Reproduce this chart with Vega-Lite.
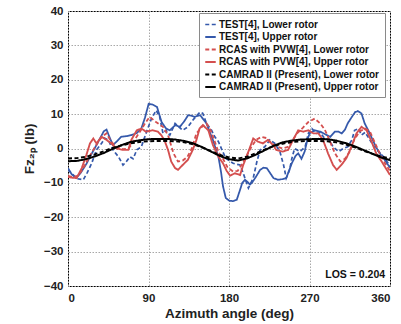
{
  "$schema": "https://vega.github.io/schema/vega-lite/v6.json",
  "width": 322,
  "height": 275,
  "autosize": {"type": "none"},
  "padding": {"left": 68, "top": 11, "right": 11, "bottom": 38},
  "config": {
    "font": "Liberation Sans",
    "view": {"stroke": "#000000", "strokeWidth": 1},
    "axis": {
      "labelFont": "Liberation Sans", "labelFontWeight": "bold", "labelFontSize": 11.5, "labelColor": "#222222",
      "titleFont": "Liberation Sans", "titleFontWeight": "bold", "titleFontSize": 13.5, "titleColor": "#222222",
      "grid": true, "gridColor": "#a8a8a8", "gridDash": [1.5, 1.5], "gridWidth": 1,
      "ticks": false, "domain": false, "labelOverlap": false
    }
  },
  "datasets": {
    "curves": [
      {"psi":0,"F":-6.2,"s":"TL"},{"psi":5.1,"F":-7.5,"s":"TL"},{"psi":10.3,"F":-8.8,"s":"TL"},{"psi":17.1,"F":-9.1,"s":"TL"},{"psi":21.5,"F":-7.0,"s":"TL"},{"psi":26.5,"F":-4.3,"s":"TL"},{"psi":31.8,"F":-0.4,"s":"TL"},{"psi":37.6,"F":1.5,"s":"TL"},{"psi":41,"F":3.0,"s":"TL"},{"psi":45.1,"F":2.5,"s":"TL"},{"psi":50.2,"F":-0.4,"s":"TL"},{"psi":56.4,"F":-2.4,"s":"TL"},{"psi":61.5,"F":-4.8,"s":"TL"},{"psi":64.6,"F":-4.0,"s":"TL"},{"psi":69.3,"F":-2.4,"s":"TL"},{"psi":72.8,"F":-3.0,"s":"TL"},{"psi":76.9,"F":-0.4,"s":"TL"},{"psi":82,"F":0.5,"s":"TL"},{"psi":87.2,"F":4.4,"s":"TL"},{"psi":93.3,"F":8.7,"s":"TL"},{"psi":98.6,"F":11.1,"s":"TL"},{"psi":102.5,"F":9.2,"s":"TL"},{"psi":106.2,"F":4.4,"s":"TL"},{"psi":109.7,"F":5.3,"s":"TL"},{"psi":113.8,"F":3.9,"s":"TL"},{"psi":119.7,"F":7.3,"s":"TL"},{"psi":123,"F":6.5,"s":"TL"},{"psi":128.2,"F":5.3,"s":"TL"},{"psi":134,"F":6.3,"s":"TL"},{"psi":139.5,"F":8.2,"s":"TL"},{"psi":143.6,"F":9.5,"s":"TL"},{"psi":147.7,"F":10.6,"s":"TL"},{"psi":150.7,"F":10.2,"s":"TL"},{"psi":154.8,"F":7.3,"s":"TL"},{"psi":160.5,"F":5.3,"s":"TL"},{"psi":164.1,"F":3.4,"s":"TL"},{"psi":168.2,"F":2.0,"s":"TL"},{"psi":172.3,"F":-0.5,"s":"TL"},{"psi":176.4,"F":-2.8,"s":"TL"},{"psi":181.5,"F":-3.8,"s":"TL"},{"psi":184.6,"F":-4.3,"s":"TL"},{"psi":188.7,"F":-4.6,"s":"TL"},{"psi":192.4,"F":-4.8,"s":"TL"},{"psi":195.9,"F":-7.2,"s":"TL"},{"psi":201.7,"F":-11.5,"s":"TL"},{"psi":207.1,"F":-8.6,"s":"TL"},{"psi":211.2,"F":-3.8,"s":"TL"},{"psi":214.8,"F":-0.4,"s":"TL"},{"psi":220,"F":0.5,"s":"TL"},{"psi":225.6,"F":2.5,"s":"TL"},{"psi":231.2,"F":1.5,"s":"TL"},{"psi":236.9,"F":-0.9,"s":"TL"},{"psi":241,"F":-4.8,"s":"TL"},{"psi":244,"F":-8.6,"s":"TL"},{"psi":247.7,"F":-6.2,"s":"TL"},{"psi":250.2,"F":-3.0,"s":"TL"},{"psi":253.3,"F":0,"s":"TL"},{"psi":259.4,"F":-0.9,"s":"TL"},{"psi":265.1,"F":0.5,"s":"TL"},{"psi":268.7,"F":4.4,"s":"TL"},{"psi":272.6,"F":5.8,"s":"TL"},{"psi":277.9,"F":4.4,"s":"TL"},{"psi":282,"F":4.6,"s":"TL"},{"psi":287.1,"F":2.9,"s":"TL"},{"psi":292.2,"F":2.5,"s":"TL"},{"psi":296.3,"F":0.5,"s":"TL"},{"psi":302.5,"F":-0.9,"s":"TL"},{"psi":307.6,"F":0,"s":"TL"},{"psi":312.7,"F":0.5,"s":"TL"},{"psi":317.4,"F":2.5,"s":"TL"},{"psi":320.4,"F":5.3,"s":"TL"},{"psi":324.7,"F":5.8,"s":"TL"},{"psi":328.1,"F":3.9,"s":"TL"},{"psi":332.2,"F":4.7,"s":"TL"},{"psi":336.3,"F":3.0,"s":"TL"},{"psi":343.5,"F":0,"s":"TL"},{"psi":348.6,"F":-1.2,"s":"TL"},{"psi":352.7,"F":-2.4,"s":"TL"},{"psi":357.9,"F":-4.3,"s":"TL"},{"psi":360,"F":-5.5,"s":"TL"},

      {"psi":0,"F":-5.7,"s":"TU"},{"psi":4.1,"F":-7.5,"s":"TU"},{"psi":9.2,"F":-8.6,"s":"TU"},{"psi":14.4,"F":-7.0,"s":"TU"},{"psi":20.5,"F":-4.5,"s":"TU"},{"psi":24.6,"F":-2.4,"s":"TU"},{"psi":30.8,"F":0.5,"s":"TU"},{"psi":35.9,"F":3.0,"s":"TU"},{"psi":40,"F":5.0,"s":"TU"},{"psi":43.1,"F":5.5,"s":"TU"},{"psi":46.1,"F":3.5,"s":"TU"},{"psi":50.2,"F":1.0,"s":"TU"},{"psi":54.3,"F":2.0,"s":"TU"},{"psi":59.5,"F":3.4,"s":"TU"},{"psi":65.6,"F":3.6,"s":"TU"},{"psi":70.8,"F":3.9,"s":"TU"},{"psi":76.9,"F":4.5,"s":"TU"},{"psi":82,"F":5.8,"s":"TU"},{"psi":86.1,"F":9.0,"s":"TU"},{"psi":90.2,"F":13.0,"s":"TU"},{"psi":94.3,"F":12.8,"s":"TU"},{"psi":99.5,"F":12.1,"s":"TU"},{"psi":104.6,"F":7.7,"s":"TU"},{"psi":109.7,"F":5.8,"s":"TU"},{"psi":113.8,"F":5.3,"s":"TU"},{"psi":120,"F":6.8,"s":"TU"},{"psi":125.1,"F":6.3,"s":"TU"},{"psi":130.2,"F":8.0,"s":"TU"},{"psi":134.3,"F":9.7,"s":"TU"},{"psi":138.4,"F":9.5,"s":"TU"},{"psi":141.5,"F":9.2,"s":"TU"},{"psi":147.7,"F":9.7,"s":"TU"},{"psi":154.8,"F":7.3,"s":"TU"},{"psi":158.9,"F":4.5,"s":"TU"},{"psi":162,"F":2.5,"s":"TU"},{"psi":165.1,"F":0.0,"s":"TU"},{"psi":168.2,"F":-2.4,"s":"TU"},{"psi":171.2,"F":-7.0,"s":"TU"},{"psi":173.3,"F":-11,"s":"TU"},{"psi":176.4,"F":-14.4,"s":"TU"},{"psi":180.5,"F":-15.2,"s":"TU"},{"psi":184.6,"F":-15.3,"s":"TU"},{"psi":188.7,"F":-14.9,"s":"TU"},{"psi":192.4,"F":-12,"s":"TU"},{"psi":194.8,"F":-10,"s":"TU"},{"psi":197.9,"F":-9.1,"s":"TU"},{"psi":201,"F":-9.8,"s":"TU"},{"psi":203.5,"F":-10.5,"s":"TU"},{"psi":206.1,"F":-9.8,"s":"TU"},{"psi":209.2,"F":-8.6,"s":"TU"},{"psi":212.3,"F":-7.3,"s":"TU"},{"psi":214.8,"F":-6.2,"s":"TU"},{"psi":218.4,"F":-5.6,"s":"TU"},{"psi":222.2,"F":-5.7,"s":"TU"},{"psi":225.6,"F":-7.0,"s":"TU"},{"psi":229.7,"F":-8.6,"s":"TU"},{"psi":234.8,"F":-9.1,"s":"TU"},{"psi":239.9,"F":-8.9,"s":"TU"},{"psi":244,"F":-8.6,"s":"TU"},{"psi":247.1,"F":-6.5,"s":"TU"},{"psi":250.2,"F":-4.3,"s":"TU"},{"psi":254.3,"F":-2.2,"s":"TU"},{"psi":257.4,"F":-1.4,"s":"TU"},{"psi":261,"F":-3.0,"s":"TU"},{"psi":264.6,"F":-0.9,"s":"TU"},{"psi":267.6,"F":2.5,"s":"TU"},{"psi":270.2,"F":4.4,"s":"TU"},{"psi":275.8,"F":5.3,"s":"TU"},{"psi":282,"F":4.9,"s":"TU"},{"psi":287.1,"F":4.2,"s":"TU"},{"psi":293.3,"F":3.4,"s":"TU"},{"psi":298.4,"F":4.9,"s":"TU"},{"psi":302.5,"F":4.9,"s":"TU"},{"psi":306.1,"F":4.4,"s":"TU"},{"psi":309.7,"F":5.5,"s":"TU"},{"psi":312.7,"F":7.3,"s":"TU"},{"psi":317.4,"F":9.2,"s":"TU"},{"psi":321,"F":10.6,"s":"TU"},{"psi":324,"F":10.9,"s":"TU"},{"psi":328.1,"F":10.2,"s":"TU"},{"psi":331.7,"F":7.3,"s":"TU"},{"psi":337.4,"F":4.4,"s":"TU"},{"psi":341.5,"F":2.0,"s":"TU"},{"psi":345.3,"F":0,"s":"TU"},{"psi":348.6,"F":-1.4,"s":"TU"},{"psi":352.7,"F":-2.8,"s":"TU"},{"psi":357.9,"F":-4.8,"s":"TU"},{"psi":360,"F":-5.5,"s":"TU"},

      {"psi":0,"F":-8.0,"s":"RL"},{"psi":5.1,"F":-8.3,"s":"RL"},{"psi":10.3,"F":-8.0,"s":"RL"},{"psi":15.4,"F":-6.5,"s":"RL"},{"psi":20.5,"F":-4.0,"s":"RL"},{"psi":24.6,"F":-2.0,"s":"RL"},{"psi":28.3,"F":-0.4,"s":"RL"},{"psi":32.8,"F":1.5,"s":"RL"},{"psi":37.9,"F":3.5,"s":"RL"},{"psi":43.1,"F":4.4,"s":"RL"},{"psi":48.2,"F":2.0,"s":"RL"},{"psi":54.3,"F":0.5,"s":"RL"},{"psi":61.5,"F":-0.2,"s":"RL"},{"psi":67.7,"F":0.0,"s":"RL"},{"psi":71.8,"F":1.5,"s":"RL"},{"psi":76.9,"F":3.5,"s":"RL"},{"psi":82,"F":5.5,"s":"RL"},{"psi":86.1,"F":7.3,"s":"RL"},{"psi":91.3,"F":9.2,"s":"RL"},{"psi":98.4,"F":7.7,"s":"RL"},{"psi":106.2,"F":6.3,"s":"RL"},{"psi":111.8,"F":3.9,"s":"RL"},{"psi":117.9,"F":-1.4,"s":"RL"},{"psi":123,"F":-3.8,"s":"RL"},{"psi":128.2,"F":-3.5,"s":"RL"},{"psi":133.3,"F":-2.5,"s":"RL"},{"psi":138.4,"F":0,"s":"RL"},{"psi":143.6,"F":4.4,"s":"RL"},{"psi":149.7,"F":6.3,"s":"RL"},{"psi":154.8,"F":7.3,"s":"RL"},{"psi":160,"F":5.0,"s":"RL"},{"psi":164.1,"F":2.0,"s":"RL"},{"psi":168.2,"F":-1.0,"s":"RL"},{"psi":173.3,"F":-3.0,"s":"RL"},{"psi":178.4,"F":-5.5,"s":"RL"},{"psi":184.6,"F":-6.7,"s":"RL"},{"psi":189.7,"F":-6.5,"s":"RL"},{"psi":194.8,"F":-4.5,"s":"RL"},{"psi":200,"F":-2.0,"s":"RL"},{"psi":205.1,"F":0.5,"s":"RL"},{"psi":210.2,"F":2.5,"s":"RL"},{"psi":216.4,"F":3.4,"s":"RL"},{"psi":222.5,"F":3.0,"s":"RL"},{"psi":227.6,"F":1.5,"s":"RL"},{"psi":233.8,"F":0.5,"s":"RL"},{"psi":239.9,"F":0.0,"s":"RL"},{"psi":246.1,"F":0.5,"s":"RL"},{"psi":251.2,"F":2.5,"s":"RL"},{"psi":256.4,"F":4.5,"s":"RL"},{"psi":262.5,"F":6.0,"s":"RL"},{"psi":268.7,"F":7.7,"s":"RL"},{"psi":275.8,"F":8.7,"s":"RL"},{"psi":282,"F":7.3,"s":"RL"},{"psi":287.1,"F":5.5,"s":"RL"},{"psi":292.2,"F":2.5,"s":"RL"},{"psi":298.4,"F":-1.4,"s":"RL"},{"psi":304.5,"F":-3.8,"s":"RL"},{"psi":309.7,"F":-3.0,"s":"RL"},{"psi":314.8,"F":-1.0,"s":"RL"},{"psi":319.9,"F":2.5,"s":"RL"},{"psi":326.1,"F":5.0,"s":"RL"},{"psi":332.2,"F":5.8,"s":"RL"},{"psi":337.4,"F":5.0,"s":"RL"},{"psi":342.5,"F":2.0,"s":"RL"},{"psi":348.6,"F":-1.5,"s":"RL"},{"psi":354.8,"F":-4.5,"s":"RL"},{"psi":360,"F":-6.5,"s":"RL"},

      {"psi":0,"F":-8.3,"s":"RU"},{"psi":5.1,"F":-8.5,"s":"RU"},{"psi":9.7,"F":-8.6,"s":"RU"},{"psi":15.4,"F":-5.7,"s":"RU"},{"psi":20.5,"F":-1.9,"s":"RU"},{"psi":24.6,"F":1.5,"s":"RU"},{"psi":28.3,"F":2.9,"s":"RU"},{"psi":31.8,"F":1.5,"s":"RU"},{"psi":37.6,"F":3.4,"s":"RU"},{"psi":43.1,"F":2.5,"s":"RU"},{"psi":48.2,"F":1.5,"s":"RU"},{"psi":54.3,"F":0,"s":"RU"},{"psi":61.5,"F":-0.4,"s":"RU"},{"psi":67.5,"F":-0.4,"s":"RU"},{"psi":70.8,"F":2.5,"s":"RU"},{"psi":76.9,"F":5.3,"s":"RU"},{"psi":82,"F":5.8,"s":"RU"},{"psi":87.2,"F":4.9,"s":"RU"},{"psi":94.8,"F":5.3,"s":"RU"},{"psi":100.5,"F":4.9,"s":"RU"},{"psi":104.2,"F":3.9,"s":"RU"},{"psi":107.7,"F":2.5,"s":"RU"},{"psi":111.8,"F":-0.4,"s":"RU"},{"psi":115.4,"F":-3.8,"s":"RU"},{"psi":119.7,"F":-5.7,"s":"RU"},{"psi":123,"F":-6.2,"s":"RU"},{"psi":128.2,"F":-4.8,"s":"RU"},{"psi":134,"F":-3.3,"s":"RU"},{"psi":139.5,"F":-0.4,"s":"RU"},{"psi":143.6,"F":2.5,"s":"RU"},{"psi":147.1,"F":5.8,"s":"RU"},{"psi":150.7,"F":6.8,"s":"RU"},{"psi":156.9,"F":5.3,"s":"RU"},{"psi":162,"F":1.0,"s":"RU"},{"psi":168.2,"F":-2.4,"s":"RU"},{"psi":173.3,"F":-4.3,"s":"RU"},{"psi":177.4,"F":-6.5,"s":"RU"},{"psi":181.2,"F":-7.9,"s":"RU"},{"psi":186.6,"F":-7.2,"s":"RU"},{"psi":192.4,"F":-7.7,"s":"RU"},{"psi":195.9,"F":-4.8,"s":"RU"},{"psi":201.7,"F":-0.9,"s":"RU"},{"psi":207.1,"F":2.9,"s":"RU"},{"psi":212.3,"F":2.0,"s":"RU"},{"psi":217.9,"F":1.5,"s":"RU"},{"psi":223.5,"F":2.5,"s":"RU"},{"psi":229.2,"F":1.0,"s":"RU"},{"psi":232.8,"F":-0.4,"s":"RU"},{"psi":239.9,"F":-0.9,"s":"RU"},{"psi":246.1,"F":-0.4,"s":"RU"},{"psi":251.7,"F":2.5,"s":"RU"},{"psi":257.4,"F":5.3,"s":"RU"},{"psi":263.2,"F":4.9,"s":"RU"},{"psi":268.7,"F":5.3,"s":"RU"},{"psi":274.4,"F":4.4,"s":"RU"},{"psi":279.9,"F":4.4,"s":"RU"},{"psi":285.1,"F":2.5,"s":"RU"},{"psi":290.7,"F":-1.4,"s":"RU"},{"psi":296.3,"F":-4.8,"s":"RU"},{"psi":300.4,"F":-6.2,"s":"RU"},{"psi":305.6,"F":-4.8,"s":"RU"},{"psi":311.3,"F":-2.8,"s":"RU"},{"psi":316.8,"F":0.5,"s":"RU"},{"psi":322.5,"F":4.4,"s":"RU"},{"psi":328.1,"F":6.3,"s":"RU"},{"psi":333.8,"F":5.3,"s":"RU"},{"psi":339.4,"F":2.0,"s":"RU"},{"psi":344.5,"F":-1.4,"s":"RU"},{"psi":350.7,"F":-3.8,"s":"RU"},{"psi":356.4,"F":-6.2,"s":"RU"},{"psi":360,"F":-7.7,"s":"RU"},

      {"psi":0,"F":-2.9,"s":"CL"},{"psi":10,"F":-2.8,"s":"CL"},{"psi":20,"F":-2.4,"s":"CL"},{"psi":30,"F":-1.7,"s":"CL"},{"psi":40,"F":-0.8,"s":"CL"},{"psi":50,"F":0.2,"s":"CL"},{"psi":60,"F":0.9,"s":"CL"},{"psi":70,"F":1.5,"s":"CL"},{"psi":80,"F":1.9,"s":"CL"},{"psi":90,"F":2.1,"s":"CL"},{"psi":100,"F":2.2,"s":"CL"},{"psi":110,"F":2.2,"s":"CL"},{"psi":120,"F":2.1,"s":"CL"},{"psi":130,"F":1.8,"s":"CL"},{"psi":140,"F":1.2,"s":"CL"},{"psi":150,"F":0.3,"s":"CL"},{"psi":160,"F":-0.8,"s":"CL"},{"psi":170,"F":-1.9,"s":"CL"},{"psi":180,"F":-2.6,"s":"CL"},{"psi":190,"F":-2.9,"s":"CL"},{"psi":200,"F":-2.4,"s":"CL"},{"psi":210,"F":-1.4,"s":"CL"},{"psi":220,"F":-0.3,"s":"CL"},{"psi":230,"F":0.7,"s":"CL"},{"psi":240,"F":1.4,"s":"CL"},{"psi":250,"F":1.9,"s":"CL"},{"psi":260,"F":2.1,"s":"CL"},{"psi":270,"F":2.2,"s":"CL"},{"psi":280,"F":2.2,"s":"CL"},{"psi":290,"F":2.1,"s":"CL"},{"psi":300,"F":1.8,"s":"CL"},{"psi":310,"F":1.2,"s":"CL"},{"psi":320,"F":0.4,"s":"CL"},{"psi":330,"F":-0.6,"s":"CL"},{"psi":340,"F":-1.5,"s":"CL"},{"psi":350,"F":-2.3,"s":"CL"},{"psi":360,"F":-2.9,"s":"CL"},

      {"psi":0,"F":-3.7,"s":"CU"},{"psi":10,"F":-3.6,"s":"CU"},{"psi":20,"F":-3.1,"s":"CU"},{"psi":30,"F":-2.3,"s":"CU"},{"psi":40,"F":-1.3,"s":"CU"},{"psi":50,"F":-0.1,"s":"CU"},{"psi":60,"F":1.0,"s":"CU"},{"psi":70,"F":1.9,"s":"CU"},{"psi":80,"F":2.4,"s":"CU"},{"psi":90,"F":2.7,"s":"CU"},{"psi":100,"F":2.8,"s":"CU"},{"psi":110,"F":2.8,"s":"CU"},{"psi":120,"F":2.6,"s":"CU"},{"psi":130,"F":2.2,"s":"CU"},{"psi":140,"F":1.5,"s":"CU"},{"psi":150,"F":0.4,"s":"CU"},{"psi":160,"F":-0.9,"s":"CU"},{"psi":170,"F":-2.2,"s":"CU"},{"psi":180,"F":-3.1,"s":"CU"},{"psi":190,"F":-3.5,"s":"CU"},{"psi":200,"F":-2.9,"s":"CU"},{"psi":210,"F":-1.8,"s":"CU"},{"psi":220,"F":-0.5,"s":"CU"},{"psi":230,"F":0.8,"s":"CU"},{"psi":240,"F":1.8,"s":"CU"},{"psi":250,"F":2.3,"s":"CU"},{"psi":260,"F":2.6,"s":"CU"},{"psi":270,"F":2.7,"s":"CU"},{"psi":280,"F":2.8,"s":"CU"},{"psi":290,"F":2.7,"s":"CU"},{"psi":300,"F":2.3,"s":"CU"},{"psi":310,"F":1.6,"s":"CU"},{"psi":320,"F":0.7,"s":"CU"},{"psi":330,"F":-0.4,"s":"CU"},{"psi":340,"F":-1.5,"s":"CU"},{"psi":350,"F":-2.6,"s":"CU"},{"psi":360,"F":-3.4,"s":"CU"}
    ],
    "note": [{"psi": 354.5, "F": -36.8, "label": "LOS = 0.204"}]
  },
  "encoding": {
    "x": {"field": "psi", "type": "quantitative",
          "scale": {"domain": [0, 360], "nice": false, "zero": false},
          "axis": {"values": [0, 90, 180, 270, 360], "title": "Azimuth angle (deg)", "labelPadding": 6, "titlePadding": 3}},
    "y": {"field": "F", "type": "quantitative",
          "scale": {"domain": [-40, 40], "nice": false, "zero": false},
          "axis": {"values": [-40, -30, -20, -10, 0, 10, 20, 30, 40], "labelOverlap": false, "title": "Fᴢ₂ₚ (lb)", "labelPadding": 5, "titlePadding": 7}}
  },
  "layer": [
    {
      "data": {"name": "curves"},
      "mark": {"type": "line", "clip": true},
      "encoding": {
        "color": {"field": "s", "type": "nominal",
                  "scale": {"domain": ["TL", "TU", "RL", "RU", "CL", "CU"],
                            "range": ["#3559ab", "#3559ab", "#d44f4f", "#d44f4f", "#000000", "#000000"]},
                  "legend": {
                    "orient": "none", "legendX": 131, "legendY": 2, "title": null,
                    "symbolType": "stroke", "symbolSize": 110, "symbolStrokeWidth": 2,
                    "labelFont": "Liberation Sans", "labelFontWeight": "bold", "labelFontSize": 10, "labelColor": "#111111",
                    "labelLimit": 0, "labelOffset": 2, "rowPadding": 0.5, "padding": 5,
                    "fillColor": "#ffffff", "strokeColor": "#8a8a8a",
                    "labelExpr": "{'TL':'TEST[4], Lower rotor','TU':'TEST[4], Upper rotor','RL':'RCAS with PVW[4], Lower rotor','RU':'RCAS with PVW[4], Upper rotor','CL':'CAMRAD II (Present), Lower rotor','CU':'CAMRAD II (Present), Upper rotor'}[datum.label]"
                  }},
        "strokeDash": {"field": "s", "type": "nominal",
                       "scale": {"domain": ["TL", "TU", "RL", "RU", "CL", "CU"],
                                 "range": [[4, 2.5], [1, 0], [4, 2.5], [1, 0], [4, 2.5], [1, 0]]}},
        "strokeWidth": {"field": "s", "type": "nominal",
                        "scale": {"domain": ["TL", "TU", "RL", "RU", "CL", "CU"], "range": [1.7, 2, 1.7, 2, 1.9, 2.3]},
                        "legend": null}
      }
    },
    {
      "data": {"name": "note"},
      "mark": {"type": "text", "align": "right", "baseline": "middle", "font": "Liberation Sans", "fontWeight": "bold", "fontSize": 10.5, "color": "#111111"},
      "encoding": {
        "text": {"field": "label"}
      }
    }
  ]
}
